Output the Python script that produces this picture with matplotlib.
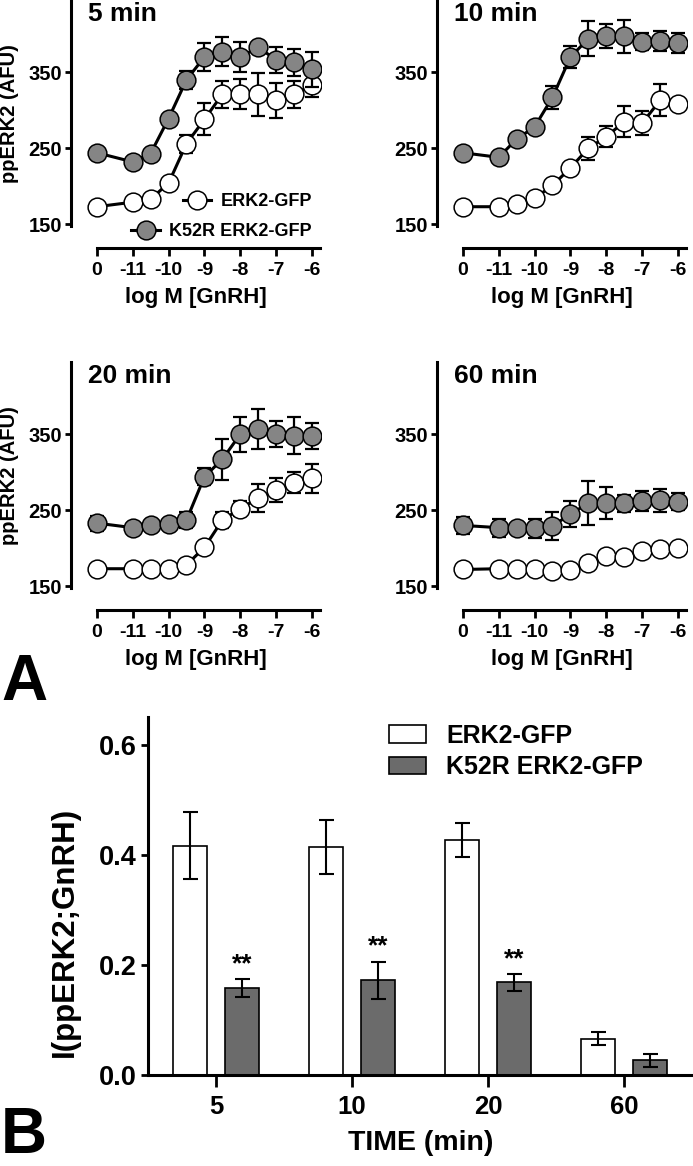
import numpy as np
import matplotlib
matplotlib.use('Agg')
import matplotlib.pyplot as plt
from matplotlib.lines import Line2D

plt.rcParams['font.family'] = ['Liberation Sans', 'DejaVu Sans']
plt.rcParams['font.weight'] = 'bold'
plt.rcParams['axes.labelweight'] = 'bold'

# x positions on the dose axis: "0" (no GnRH) sits one step left of -11
dose_x = [-12, -11, -10.5, -10, -9.5, -9, -8.5, -8, -7.5, -7, -6.5, -6]
dose_ticks = [-12, -11, -10, -9, -8, -7, -6]
dose_ticklabels = ['0', '-11', '-10', '-9', '-8', '-7', '-6']

titles = ['5 min', '10 min', '20 min', '60 min']

# ERK2-GFP (white)
wt_mean = [
    [173, 179, 183, 204, 256, 288, 321, 321, 321, 313, 321, 333],
    [173, 173, 177, 184, 201, 224, 250, 265, 285, 283, 313, 308],
    [173, 173, 173, 172, 178, 201, 237, 252, 266, 277, 286, 292],
    [172, 173, 173, 172, 170, 171, 181, 190, 189, 196, 199, 200],
]
wt_err = [
    [0, 0, 0, 0, 12, 21, 18, 20, 28, 23, 18, 15],
    [0, 0, 0, 0, 0, 0, 15, 14, 20, 16, 21, 0],
    [0, 0, 0, 0, 0, 0, 10, 10, 18, 16, 14, 19],
    [0, 0, 0, 0, 0, 0, 0, 0, 0, 0, 0, 0],
]
# K52R ERK2-GFP (grey)
mut_mean = [
    [244, 232, 243, 289, 340, 370, 377, 370, 383, 366, 363, 354],
    [244, 238, 262, 278, 317, 370, 394, 398, 397, 390, 391, 388],
    [233, 227, 230, 232, 237, 294, 317, 350, 357, 350, 348, 348],
    [230, 227, 227, 226, 229, 245, 259, 260, 259, 262, 263, 261],
]
mut_err = [
    [0, 0, 0, 0, 12, 18, 19, 20, 0, 17, 18, 23],
    [0, 0, 0, 0, 15, 14, 23, 16, 22, 11, 13, 13],
    [10, 0, 0, 0, 10, 11, 27, 23, 26, 17, 24, 17],
    [11, 12, 0, 13, 18, 17, 29, 21, 11, 13, 15, 11],
]

# panel B
times = ['5', '10', '20', '60']
bar_wt = [0.416, 0.414, 0.426, 0.066]
bar_wt_err = [0.061, 0.049, 0.031, 0.012]
bar_mut = [0.158, 0.172, 0.168, 0.027]
bar_mut_err = [0.016, 0.034, 0.015, 0.012]
signif = ['**', '**', '**', '']

W, H = 693, 1166
fig = plt.figure(figsize=(W / 100, H / 100), dpi=100)

grey = '#858585'
lw = 2.2


def px_axes(left, top, width, height):
    return fig.add_axes([left / W, 1 - (top + height) / H, width / W, height / H])


panel_pos = [(71, 0), (437, 0), (71, 362), (437, 362)]
for i, (left, top) in enumerate(panel_pos):
    ax = px_axes(left, top, 250, 228)
    ax.errorbar(dose_x, wt_mean[i], yerr=wt_err[i], fmt='none', ecolor='black',
                elinewidth=1.6, capsize=4.8, capthick=1.6, zorder=2)
    ax.plot(dose_x, wt_mean[i], '-o', color='black', lw=lw, ms=13.5,
            mfc='white', mec='black', mew=1.1, zorder=3)
    ax.errorbar(dose_x, mut_mean[i], yerr=mut_err[i], fmt='none', ecolor='black',
                elinewidth=1.6, capsize=4.8, capthick=1.6, zorder=4)
    ax.plot(dose_x, mut_mean[i], '-o', color='black', lw=lw, ms=13.5,
            mfc=grey, mec='black', mew=1.1, zorder=5)

    ax.set_xlim(-12.72, -5.75)
    ax.set_ylim(145, 445)
    ax.set_xticks(dose_ticks)
    ax.set_xticklabels(dose_ticklabels)
    ax.set_yticks([150, 250, 350])
    for s in ['top', 'right']:
        ax.spines[s].set_visible(False)
    ax.spines['left'].set_linewidth(lw)
    ax.spines['bottom'].set_linewidth(lw)
    ax.spines['left'].set_bounds(147, 445)
    ax.spines['bottom'].set_bounds(-12, -5.78)
    ax.spines['bottom'].set_position(('outward', 14.4))
    ax.tick_params(axis='x', length=6, width=2, labelsize=14, pad=4)
    ax.tick_params(axis='y', length=4.5, width=2, labelsize=14.5, pad=2)
    ax.set_xlabel('log M [GnRH]', fontsize=16, labelpad=6)
    if i % 2 == 0:
        ax.set_ylabel('ppERK2 (AFU)', fontsize=14.5, labelpad=7)
    ax.text(0.068, 0.99, titles[i], transform=ax.transAxes, fontsize=19,
            va='top', ha='left')
    ax.patch.set_visible(False)

    if i == 0:
        h_wt = Line2D([], [], color='black', lw=lw, marker='o', ms=13.5,
                      mfc='white', mec='black', mew=1.1)
        h_mut = Line2D([], [], color='black', lw=lw, marker='o', ms=13.5,
                       mfc=grey, mec='black', mew=1.1)
        leg1 = ax.legend([h_wt], ['ERK2-GFP'], loc='lower right',
                         bbox_to_anchor=(1.0, 0.038), frameon=False,
                         fontsize=13, handlelength=1.6, borderpad=0,
                         handletextpad=0.5)
        ax.add_artist(leg1)
        ax.legend([h_mut], ['K52R ERK2-GFP'], loc='lower right',
                  bbox_to_anchor=(1.0, -0.092), frameon=False,
                  fontsize=13, handlelength=1.6, borderpad=0,
                  handletextpad=0.5)

# panel B
axb = px_axes(148, 717, 545, 358)
xpos = np.arange(len(times))
bw = 0.25
off = 0.19
axb.bar(xpos - off, bar_wt, bw, yerr=bar_wt_err, color='white',
        edgecolor='black', linewidth=1.2, label='ERK2-GFP',
        error_kw=dict(elinewidth=1.5, capsize=5.4, capthick=1.5))
axb.bar(xpos + off, bar_mut, bw, yerr=bar_mut_err, color='#6b6b6b',
        edgecolor='black', linewidth=1.2, label='K52R ERK2-GFP',
        error_kw=dict(elinewidth=1.5, capsize=5.4, capthick=1.5))
for x, m, e, s in zip(xpos + off, bar_mut, bar_mut_err, signif):
    if s:
        axb.text(x, m + e + 0.005, s, ha='center', va='bottom', fontsize=19)

axb.set_xlim(-0.5, 3.505)
axb.set_ylim(0, 0.65)
axb.set_xticks(xpos)
axb.set_xticklabels(times)
axb.set_yticks([0.0, 0.2, 0.4, 0.6])
axb.set_yticklabels(['0.0', '0.2', '0.4', '0.6'])
for s in ['top', 'right']:
    axb.spines[s].set_visible(False)
axb.spines['left'].set_linewidth(lw)
axb.spines['bottom'].set_linewidth(lw)
axb.tick_params(axis='x', length=8.5, width=2, labelsize=18.5, pad=6)
axb.tick_params(axis='y', length=5, width=2, labelsize=19.5, pad=3)
axb.set_xlabel('TIME (min)', fontsize=20.5, labelpad=8)
axb.set_ylabel('I(ppERK2;GnRH)', fontsize=22.5)
axb.yaxis.set_label_coords(-0.125, 0.40)
axb.legend(loc='upper left', bbox_to_anchor=(0.41, 1.03), frameon=False,
           fontsize=18, handlelength=1.5, handleheight=0.7,
           handletextpad=0.8, labelspacing=0.3, borderpad=0.2)

fig.text(1 / W, 1 - 700 / H, 'A', fontsize=46, ha='left', va='baseline')
fig.text(1 / W, 1 - 1153 / H, 'B', fontsize=46, ha='left', va='baseline')

fig.savefig('out.png', dpi=100)
